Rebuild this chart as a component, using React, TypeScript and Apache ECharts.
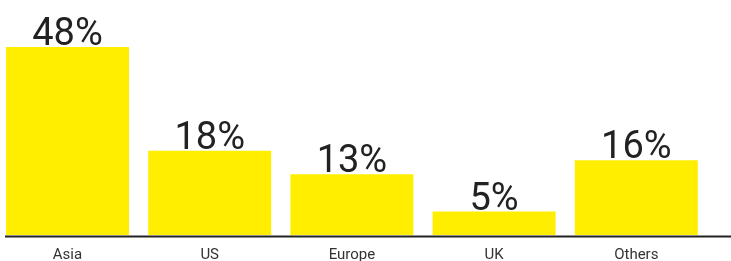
import React, { useEffect, useRef } from "react";
import * as echarts from "echarts";

const categories = ["Asia", "US", "Europe", "UK", "Others"];
const shares = [48, 18, 13, 5, 16];

export default function App() {
  const ref = useRef<HTMLDivElement>(null);
  useEffect(() => {
    if (!ref.current) return;
    const chart = echarts.init(ref.current, undefined, { renderer: "svg" });
    chart.setOption({
      animation: false,
      grid: { left: 0.4, width: 711, top: 47, bottom: 25 },
      xAxis: {
        type: "category",
        data: categories,
        axisLine: { show: false },
        axisTick: { show: false },
        axisLabel: {
          color: "#333",
          fontFamily: "Roboto",
          fontSize: 15,
          margin: 11,
        },
      },
      yAxis: {
        type: "value",
        min: 0,
        max: 40.2,
        show: false,
        splitLine: { show: false },
      },
      series: [
        {
          type: "bar",
          data: shares,
          barWidth: 123,
          clip: true,
          itemStyle: { color: "#FFEE00" },
          label: {
            show: true,
            position: "top",
            distance: -4,
            formatter: (p: any) => p.value + "%",
            color: "#222",
            fontFamily: "Roboto",
            fontSize: 38,
            fontWeight: 400,
          },
        },
      ],
      graphic: [
        {
          type: "line",
          shape: { x1: 9, y1: 236.5, x2: 735, y2: 236.5 },
          style: { stroke: "#222", lineWidth: 2 },
          z: 10,
        },
      ],
    });
    return () => chart.dispose();
  }, []);
  return (
    <div
      ref={ref}
      style={{ position: "fixed", left: -4, top: 0, width: 735, height: 261 }}
    />
  );
}
